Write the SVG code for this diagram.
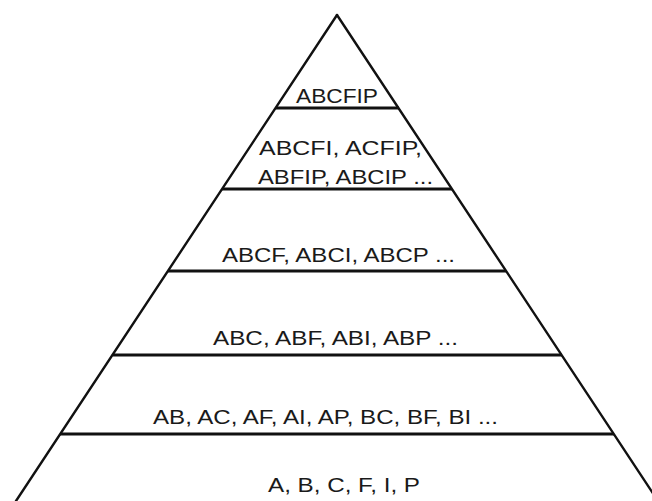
<svg xmlns="http://www.w3.org/2000/svg" width="652" height="501" viewBox="0 0 652 501">
<style>
.edge{stroke:#111;stroke-width:2.4;fill:none;stroke-linecap:round}
.tier{stroke:#111;stroke-width:3;fill:none}
.lbl{font-family:"Liberation Sans",Arial,sans-serif;font-size:21px;fill:#1a1a1a}
</style>
<rect width="652" height="501" fill="#fff"/>
<g id="outline">
<line class="edge" x1="337" y1="15" x2="16" y2="501"/>
<line class="edge" x1="337" y1="15" x2="658" y2="501"/>
</g>
<g id="dividers">
<line class="tier" x1="276" y1="108" x2="399" y2="108"/>
<line class="tier" x1="222" y1="189" x2="452" y2="189"/>
<line class="tier" x1="168" y1="271" x2="506" y2="271"/>
<line class="tier" x1="113" y1="355" x2="562" y2="355"/>
<line class="tier" x1="60" y1="434" x2="614" y2="434"/>
</g>
<g id="tier6"><text class="lbl" x="296" y="103" textLength="82" lengthAdjust="spacingAndGlyphs">ABCFIP</text></g>
<g id="tier5">
<text class="lbl" x="259" y="155" textLength="163" lengthAdjust="spacingAndGlyphs">ABCFI, ACFIP,</text>
<text class="lbl" x="258" y="184" textLength="175" lengthAdjust="spacingAndGlyphs">ABFIP, ABCIP ...</text>
</g>
<g id="tier4"><text class="lbl" x="222" y="262" textLength="233" lengthAdjust="spacingAndGlyphs">ABCF, ABCI, ABCP ...</text></g>
<g id="tier3"><text class="lbl" x="213" y="345" textLength="245" lengthAdjust="spacingAndGlyphs">ABC, ABF, ABI, ABP ...</text></g>
<g id="tier2"><text class="lbl" x="153" y="424" textLength="345" lengthAdjust="spacingAndGlyphs">AB, AC, AF, AI, AP, BC, BF, BI ...</text></g>
<g id="tier1"><text class="lbl" x="268" y="492" textLength="152" lengthAdjust="spacingAndGlyphs">A, B, C, F, I, P</text></g>
</svg>
